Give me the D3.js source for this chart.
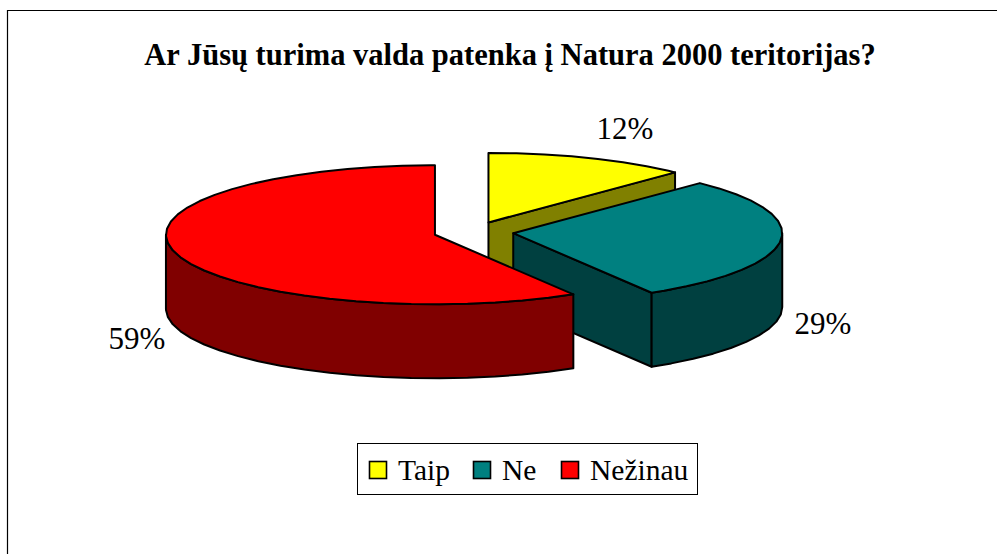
<!DOCTYPE html>
<html>
<head>
<meta charset="utf-8">
<script src="https://cdnjs.cloudflare.com/ajax/libs/d3/7.8.5/d3.min.js"></script>
<style>
  html, body { margin: 0; padding: 0; background: #fff; overflow: hidden; }
  svg { display: block; }
  text { font-family: "Liberation Serif", serif; fill: #000; }
</style>
</head>
<body>
<div id="chart"></div>
<script>
// chart data (the labels show the rounded percent)
var categories = ["Taip", "Ne", "Nežinau"];
var values = [12.2, 29.2, 58.6];
var colors = ["#ffff00", "#008080", "#ff0000"];
var chartTitle = "Ar Jūsų turima valda patenka į Natura 2000 teritorijas?";

//define page size
var svgWidth = 997;
var svgHeight = 554;

// pie layout in px
var centerX = 473.5;
var centerY = 232;
var radiusX = 269;
var radiusY = 69.5;
var depth = 74;
var explode = 40;
var stepDeg = 6; // the original outline is a coarse polygon

// label spots, same order as categories
var labelX = [625, 823, 137];
var labelY = [139, 334, 349];
var legendItemX = [369, 473, 561];

var svg = d3
  .select("#chart")
  .append("svg")
  .attr("width", svgWidth)
  .attr("height", svgHeight);

// frame, only top and left reach inside the picture
svg.append("path")
  .attr("d", d3.line()([[7.5, svgHeight], [7.5, 10.5], [svgWidth, 10.5]]))
  .attr("fill", "none")
  .attr("stroke", "#000")
  .attr("stroke-width", 1.2);

svg.append("text")
  .attr("x", 510)
  .attr("y", 65)
  .attr("text-anchor", "middle")
  .attr("font-size", 30.5)
  .attr("font-weight", "bold")
  .text(chartTitle);

// angle 0 is 12 o'clock, going clockwise
var pie = d3.pie().sort(null).value(function(d) { return d; });
var arcs = pie(values);
var total = d3.sum(values);
var percent = d3.format(".0%");

var xScale = d3.scaleLinear().domain([-1, 1]).range([-radiusX, radiusX]);
var yScale = d3.scaleLinear().domain([-1, 1]).range([radiusY, -radiusY]);
var line = d3.line();

function rimPoint(cx, cy, a) {
  return [cx + xScale(Math.sin(a)), cy + yScale(Math.cos(a))];
}

function rimPoints(cx, cy, a0, a1) {
  var step = stepDeg * Math.PI / 180;
  var pts = d3.range(a0, a1, step).map(function(a) { return rimPoint(cx, cy, a); });
  pts.push(rimPoint(cx, cy, a1));
  return pts;
}

function shade(c) {
  return d3.interpolateRgb(c, "#000")(0.5);
}

function down(pt) {
  return [pt[0], pt[1] + depth];
}

var slices = svg.append("g");

arcs.forEach(function(d, i) {
  var mid = (d.startAngle + d.endAngle) / 2;
  var cx = centerX + xScale(Math.sin(mid) * explode / radiusX);
  var cy = centerY + yScale(Math.cos(mid) * explode / radiusX);
  var g = slices.append("g")
    .attr("stroke", "#000")
    .attr("stroke-width", 2)
    .attr("stroke-linejoin", "round");

  // cut face is only seen when it turns towards the viewer
  if (d.endAngle < Math.PI) {
    var p = rimPoint(cx, cy, d.endAngle);
    g.append("path")
      .attr("d", line([[cx, cy], p, down(p), [cx, cy + depth]]) + "Z")
      .attr("fill", shade(colors[i]));
  }

  // outer wall, front half only
  var wall0 = Math.max(d.startAngle, Math.PI / 2);
  var wall1 = Math.min(d.endAngle, Math.PI * 1.5);
  if (wall1 > wall0) {
    var rim = rimPoints(cx, cy, wall0, wall1);
    g.append("path")
      .attr("d", line(rim.concat(rim.slice().reverse().map(down))) + "Z")
      .attr("fill", shade(colors[i]));
  }

  // top of the slice
  g.append("path")
    .attr("d", line([[cx, cy]].concat(rimPoints(cx, cy, d.startAngle, d.endAngle))) + "Z")
    .attr("fill", colors[i]);
});

// percent labels
svg.selectAll(".pct")
  .data(values)
  .enter()
  .append("text")
  .attr("class", "pct")
  .attr("x", function(d, i) { return labelX[i]; })
  .attr("y", function(d, i) { return labelY[i]; })
  .attr("text-anchor", "middle")
  .attr("font-size", 31)
  .text(function(d) { return percent(d / total); });

// legend
svg.append("rect")
  .attr("x", 357.5)
  .attr("y", 443.5)
  .attr("width", 340)
  .attr("height", 51)
  .attr("fill", "#fff")
  .attr("stroke", "#000")
  .attr("stroke-width", 1);

var legend = svg.selectAll(".legend-item")
  .data(categories)
  .enter()
  .append("g")
  .attr("class", "legend-item")
  .attr("transform", function(d, i) { return "translate(" + legendItemX[i] + ",461)"; });

legend.append("rect")
  .attr("x", 0.5)
  .attr("y", 0.5)
  .attr("width", 17)
  .attr("height", 17)
  .attr("fill", function(d, i) { return colors[i]; })
  .attr("stroke", "#000")
  .attr("stroke-width", 1.6);

legend.append("text")
  .attr("x", 29)
  .attr("y", 19)
  .attr("font-size", 29.5)
  .text(function(d) { return d; });
</script>
</body>
</html>
